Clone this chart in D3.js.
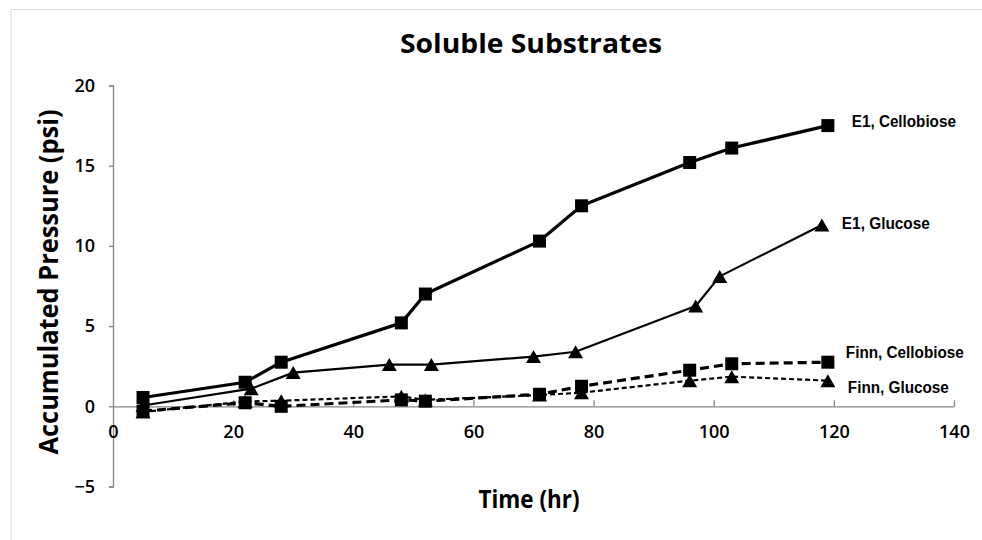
<!DOCTYPE html>
<html>
<head>
<meta charset="utf-8">
<script src="https://cdn.jsdelivr.net/npm/d3@7"></script>
<style>
  body { margin: 0; background: #ffffff; }
  svg { display: block; }
</style>
</head>
<body>
<svg id="chart" width="982" height="540"></svg>
<script>
// Sampling times (hr) and accumulated pressure (psi) for each culture
const e1CellobioseTime = [5, 22, 28, 48, 52, 71, 78, 96, 103, 119];
const e1Cellobiose     = [0.55, 1.5, 2.75, 5.2, 7.0, 10.3, 12.5, 15.2, 16.1, 17.5];
const e1GlucoseTime    = [5, 23, 30, 46, 53, 70, 77, 97, 101, 118];
const e1Glucose        = [0.05, 1.1, 2.1, 2.6, 2.6, 3.1, 3.4, 6.25, 8.1, 11.3];
const finnTime         = [5, 22, 28, 48, 52, 71, 78, 96, 103, 119];
const finnCellobiose   = [-0.3, 0.22, 0.0, 0.4, 0.32, 0.75, 1.25, 2.25, 2.65, 2.75];
const finnGlucose      = [-0.35, 0.3, 0.35, 0.62, 0.4, 0.7, 0.85, 1.6, 1.85, 1.6];
const seriesNames      = ["E1, Cellobiose", "E1, Glucose", "Finn, Cellobiose", "Finn, Glucose"];
const xTickValues      = [0, 20, 40, 60, 80, 100, 120, 140];
const yTickValues      = [-5, 0, 5, 10, 15, 20];

const svg = d3.select("#chart");

// Outer frame of the chart area
svg.append("path")
  .attr("d", "M11,545 L11,9.5 L990,9.5")
  .attr("fill", "none")
  .attr("stroke", "#d9d9d9")
  .attr("stroke-width", 1);

const x = d3.scaleLinear().domain([0, 140]).range([113, 954]);
const y = d3.scaleLinear().domain([-5, 20]).range([486.5, 85.5]);

const axisColor = "#868686";
const tickFont = "'Open Sans', 'DejaVu Sans', sans-serif";

// Y axis: line at x = 0, ticks outward to the left
const yAxis = svg.append("g")
  .attr("transform", `translate(${x(0)},0)`)
  .call(d3.axisLeft(y).tickValues(yTickValues).tickSize(4).tickPadding(14).tickFormat(d3.format("d")));
yAxis.select(".domain").attr("stroke", axisColor).attr("stroke-width", 1.3);
yAxis.selectAll(".tick line").attr("stroke", axisColor).attr("stroke-width", 1.3);
yAxis.selectAll(".tick text")
  .attr("font-family", tickFont).attr("font-size", 18).attr("font-weight", 600).attr("fill", "#000");

// X axis: crosses at y = 0, ticks point up, labels sit under the axis line
const xAxis = svg.append("g")
  .attr("transform", `translate(0,${y(0)})`)
  .call(d3.axisBottom(x).tickValues(xTickValues).tickSize(0).tickFormat(d3.format("d")));
xAxis.select(".domain").attr("stroke", axisColor).attr("stroke-width", 1.3);
xAxis.selectAll(".tick line").remove();
xAxis.selectAll(".tick").filter(d => d !== 0)
  .append("line").attr("y1", 0).attr("y2", -6)
  .attr("stroke", axisColor).attr("stroke-width", 1.3);
xAxis.selectAll(".tick text")
  .attr("y", 19).attr("dy", "0.71em")
  .attr("font-family", tickFont).attr("font-size", 18).attr("font-weight", 600).attr("fill", "#000");

// Series definitions
const series = [
  { name: seriesNames[0], t: e1CellobioseTime, v: e1Cellobiose,   marker: "square",   width: 3.2, dash: null,  labelDx: 24, labelDy: -4,  labelW: 104 },
  { name: seriesNames[1], t: e1GlucoseTime,    v: e1Glucose,      marker: "triangle", width: 2.2, dash: null,  labelDx: 20, labelDy: -2,  labelW: 88 },
  { name: seriesNames[2], t: finnTime,         v: finnCellobiose, marker: "square",   width: 3.2, dash: "9,5", labelDx: 18, labelDy: -10, labelW: 118 },
  { name: seriesNames[3], t: finnTime,         v: finnGlucose,    marker: "triangle", width: 2.2, dash: "5,3", labelDx: 20, labelDy: 7,   labelW: 101 }
];
series.forEach(s => { s.points = s.t.map((t, i) => ({ t, v: s.v[i] })); });

const line = d3.line().x(d => x(d.t)).y(d => y(d.v));

const groups = svg.selectAll(".series").data(series).enter().append("g").attr("class", "series");

groups.append("path")
  .attr("d", d => line(d.points))
  .attr("fill", "none")
  .attr("stroke", "#000")
  .attr("stroke-width", d => d.width)
  .attr("stroke-dasharray", d => d.dash)
  .attr("stroke-linejoin", "round");

const sq = 13, triW = 15, triH = 13;
groups.each(function (s) {
  const g = d3.select(this);
  if (s.marker === "square") {
    g.selectAll("rect").data(s.points).enter().append("rect")
      .attr("x", d => x(d.t) - sq / 2)
      .attr("y", d => y(d.v) - sq / 2)
      .attr("width", sq).attr("height", sq)
      .attr("fill", "#000");
  } else {
    g.selectAll(".tri").data(s.points).enter().append("path")
      .attr("class", "tri")
      .attr("d", d => {
        const cx = x(d.t), cy = y(d.v);
        return `M${cx},${cy - triH / 2} L${cx + triW / 2},${cy + triH / 2} L${cx - triW / 2},${cy + triH / 2} Z`;
      })
      .attr("fill", "#000");
  }
  const last = s.points[s.points.length - 1];
  g.append("text")
    .attr("x", x(last.t) + s.labelDx)
    .attr("y", y(last.v) + s.labelDy)
    .attr("dy", "0.35em")
    .attr("font-family", "'Liberation Sans', Arial, sans-serif")
    .attr("font-weight", "bold")
    .attr("font-size", 16)
    .attr("textLength", s.labelW).attr("lengthAdjust", "spacingAndGlyphs")
    .attr("fill", "#000")
    .text(s.name);
});

// Titles
svg.append("text")
  .attr("x", 531).attr("y", 53)
  .attr("text-anchor", "middle")
  .attr("font-family", tickFont).attr("font-weight", "bold").attr("font-size", 27)
  .attr("textLength", 262).attr("lengthAdjust", "spacingAndGlyphs")
  .text("Soluble Substrates");

svg.append("text")
  .attr("x", 529).attr("y", 508)
  .attr("text-anchor", "middle")
  .attr("font-family", tickFont).attr("font-weight", "bold").attr("font-size", 25)
  .attr("textLength", 101).attr("lengthAdjust", "spacingAndGlyphs")
  .text("Time (hr)");

svg.append("text")
  .attr("transform", "translate(58,282) rotate(-90)")
  .attr("text-anchor", "middle")
  .attr("font-family", tickFont).attr("font-weight", "bold").attr("font-size", 26)
  .attr("textLength", 345).attr("lengthAdjust", "spacingAndGlyphs")
  .text("Accumulated Pressure (psi)");
</script>
</body>
</html>
